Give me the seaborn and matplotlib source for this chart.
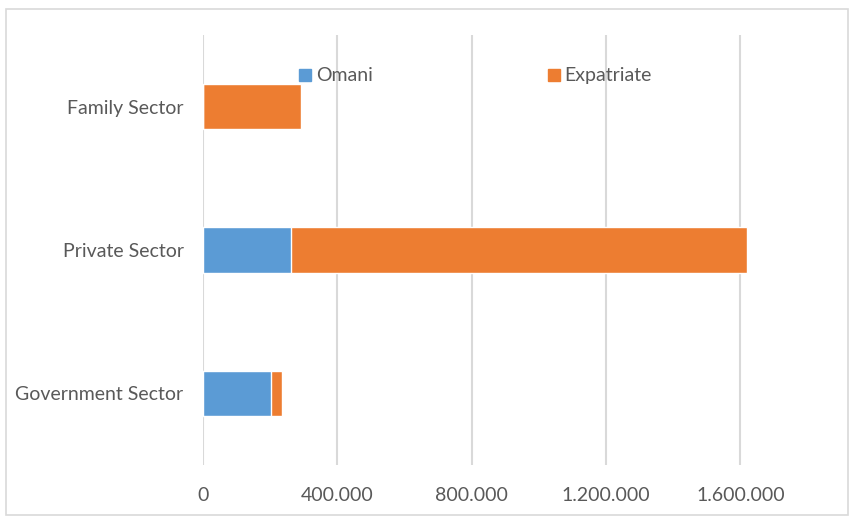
import matplotlib
matplotlib.use("Agg")
import matplotlib.pyplot as plt
from matplotlib.lines import Line2D
from matplotlib.patches import Rectangle
from matplotlib.ticker import FuncFormatter
import pandas as pd
import seaborn as sns

sectors = ["Family Sector", "Private Sector", "Government Sector"]
omani = [0, 262000, 202000]
expatriate = [291000, 1359000, 33000]
xticks = [0, 400000, 800000, 1200000, 1600000]

blue = "#5B9BD5"
orange = "#ED7D31"
grey_text = "#595959"

df = pd.DataFrame({"sector": sectors, "omani": omani, "expatriate": expatriate})
df["total"] = df["omani"] + df["expatriate"]

sns.set_theme(style="white")
plt.rcParams["font.family"] = ["Lato", "DejaVu Sans"]

fig = plt.figure(figsize=(8.53, 5.17), dpi=100)
ax = fig.add_axes([0.238, 0.1006, 0.689, 0.832])

# stacked: draw the total in orange, then Omani on top in blue
sns.barplot(data=df, x="total", y="sector", order=sectors, color=orange,
            width=0.315, saturation=1, ax=ax, zorder=3)
sns.barplot(data=df, x="omani", y="sector", order=sectors, color=blue,
            width=0.315, saturation=1, ax=ax, zorder=4)

ax.set_xlim(0, 1750000)
ax.set_ylim(2.5, -0.5)
ax.set_xticks(xticks)
ax.xaxis.set_major_formatter(FuncFormatter(lambda v, p: f"{int(v):,}".replace(",", ".")))
ax.grid(axis="x", color="#D9D9D9", linewidth=1.5, zorder=0)
ax.grid(axis="y", visible=False)
for s in ax.spines.values():
    s.set_visible(False)
ax.set_xlabel("")
ax.set_ylabel("")
ax.tick_params(axis="both", length=0, labelsize=14, colors=grey_text)
ax.tick_params(axis="x", pad=16)
ax.tick_params(axis="y", pad=14)

handles = [
    Line2D([], [], marker="s", linestyle="", color=blue, markersize=9),
    Line2D([], [], marker="s", linestyle="", color=orange, markersize=9),
]
leg = ax.legend(handles, ["Omani", "Expatriate"], ncol=2, frameon=False,
                loc="upper left", bbox_to_anchor=(0.128, 0.965),
                columnspacing=8.8, handletextpad=0.05, handlelength=1.0,
                fontsize=14)
for t in leg.get_texts():
    t.set_color(grey_text)

fig.patches.append(Rectangle((0.007, 0.004), 0.987, 0.979, transform=fig.transFigure,
                             fill=False, edgecolor="#D9D9D9", linewidth=1.2))

fig.savefig("out.png", dpi=100)
